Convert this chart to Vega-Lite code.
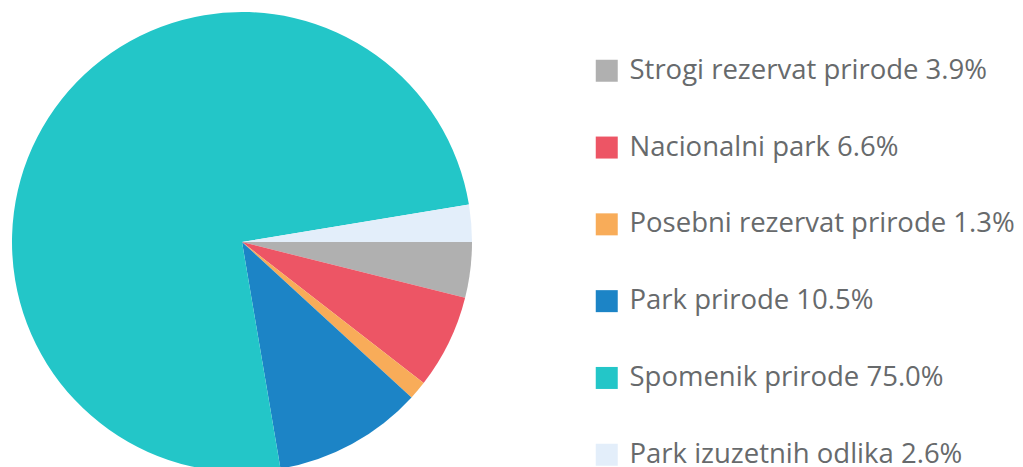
{
  "$schema": "https://vega.github.io/schema/vega-lite/v6.json",
  "width": 484,
  "height": 484,
  "padding": 0,
  "autosize": {"type": "pad"},
  "background": "white",
  "view": {"stroke": null},
  "data": {"values": [
    {"order": 1, "name": "Strogi rezervat prirode", "label": "Strogi rezervat prirode 3.9%", "value": 3.9},
    {"order": 2, "name": "Nacionalni park", "label": "Nacionalni park 6.6%", "value": 6.6},
    {"order": 3, "name": "Posebni rezervat prirode", "label": "Posebni rezervat prirode 1.3%", "value": 1.3},
    {"order": 4, "name": "Park prirode", "label": "Park prirode 10.5%", "value": 10.5},
    {"order": 5, "name": "Spomenik prirode", "label": "Spomenik prirode 75.0%", "value": 75.0},
    {"order": 6, "name": "Park izuzetnih odlika", "label": "Park izuzetnih odlika 2.6%", "value": 2.6}
  ]},
  "mark": {"type": "arc", "outerRadius": 230},
  "encoding": {
    "theta": {"field": "value", "type": "quantitative", "stack": true, "scale": {"range": [1.5707963, 7.8539816]}},
    "order": {"field": "order", "type": "quantitative"},
    "color": {
      "field": "label",
      "type": "nominal",
      "scale": {
        "domain": ["Strogi rezervat prirode 3.9%", "Nacionalni park 6.6%", "Posebni rezervat prirode 1.3%", "Park prirode 10.5%", "Spomenik prirode 75.0%", "Park izuzetnih odlika 2.6%"],
        "range": ["#b0b0b0", "#ed5565", "#f8ac59", "#1c84c6", "#23c6c8", "#e3eefa"]
      },
      "legend": {
        "title": null,
        "orient": "none",
        "legendX": 593,
        "legendY": 57,
        "symbolType": "square",
        "symbolSize": 484,
        "symbolStrokeWidth": 0,
        "labelFont": "Open Sans",
        "labelFontSize": 27.5,
        "labelColor": "#676a6c",
        "labelOffset": 9,
        "labelLimit": 600,
        "rowPadding": 47.8
      }
    }
  }
}
